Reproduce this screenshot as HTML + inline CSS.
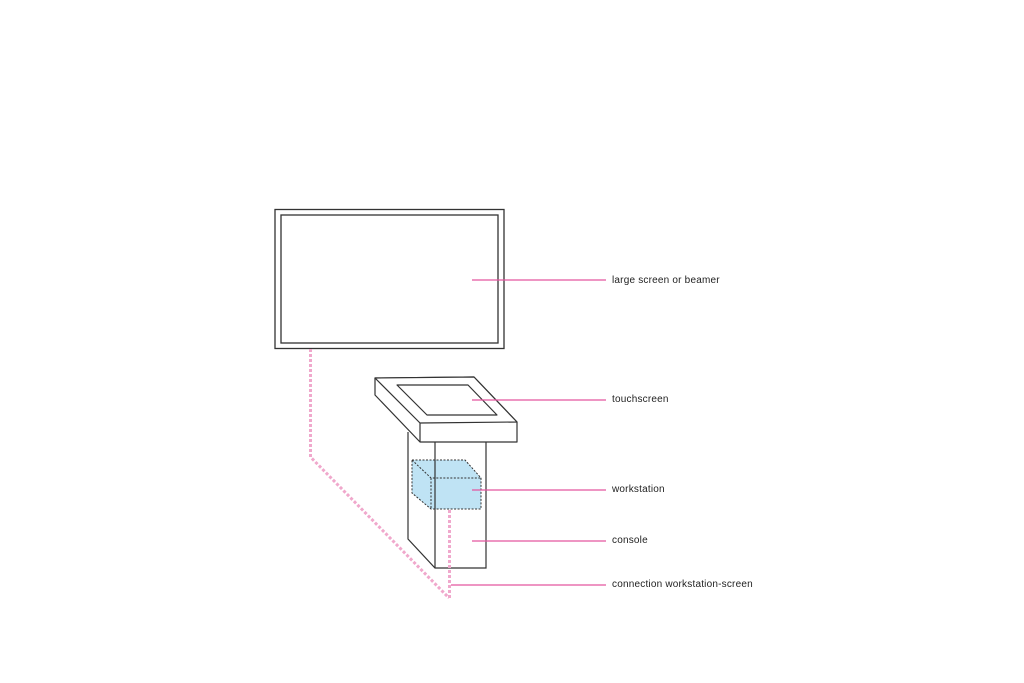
<!DOCTYPE html>
<html><head><meta charset="utf-8"><style>
html,body{margin:0;padding:0;background:#fff;}
svg{display:block;}
text{font-family:"Liberation Sans",sans-serif;font-size:10px;letter-spacing:0.2px;fill:#222;}
</style></head><body>
<svg width="1024" height="683" viewBox="0 0 1024 683" xmlns="http://www.w3.org/2000/svg">
<rect x="275" y="209.5" width="229" height="139" fill="none" stroke="#333" stroke-width="1.3"/>
<rect x="281" y="215" width="217" height="128" fill="none" stroke="#333" stroke-width="1.3"/>
<polyline points="310.5,349 310.5,457 449,598" fill="none" stroke="#f0a8cc" stroke-width="3" stroke-dasharray="3,2"/>
<polygon points="412,460 465,460 481,478 481,509 431,509 412,493" fill="#bfe3f4"/>
<g fill="none" stroke="#333" stroke-width="1.2">
<polyline points="408,432 408,539 435,568 486,568 486,442"/>
<line x1="435" y1="442" x2="435" y2="568"/>
</g>
<g fill="none" stroke="#333" stroke-width="1" stroke-dasharray="2,1.5">
<polygon points="412,460 465,460 481,478 481,509 431,509 412,493"/>
<polyline points="412,460 431,478 481,478"/>
<line x1="431" y1="478" x2="431" y2="509"/>
</g>
<line x1="449.5" y1="510" x2="449.5" y2="598" stroke="#f0a8cc" stroke-width="3" stroke-dasharray="3,2"/>
<g fill="#fff" stroke="#333" stroke-width="1.2" stroke-linejoin="round">
<polygon points="375,378 474,377 517,422 517,442 420,442 375,395"/>
<polygon points="375,378 474,377 517,422 420,423" fill="#fff"/>
<line x1="420" y1="423" x2="420" y2="442"/>
<polygon points="397,385 468,385 497,415 427,415" fill="none"/>
</g>
<g stroke="#e4569f" stroke-width="1.2">
<line x1="472" y1="280" x2="606" y2="280"/>
<line x1="472" y1="400" x2="606" y2="400"/>
<line x1="472" y1="490" x2="606" y2="490"/>
<line x1="472" y1="541" x2="606" y2="541"/>
<line x1="451" y1="585" x2="606" y2="585"/>
</g>
<text x="612" y="283">large screen or beamer</text>
<text x="612" y="402">touchscreen</text>
<text x="612" y="492">workstation</text>
<text x="612" y="543">console</text>
<text x="612" y="587">connection workstation-screen</text>
</svg>
</body></html>
